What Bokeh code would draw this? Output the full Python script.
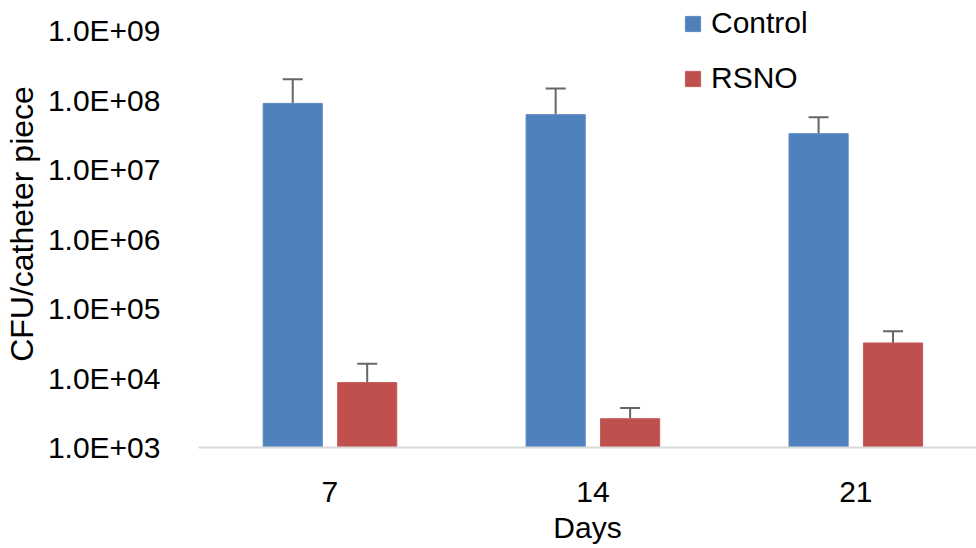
from bokeh.plotting import figure
from bokeh.models import (Range1d, FixedTicker, CustomJSTickFormatter, Whisker,
                          ColumnDataSource, Legend, LegendItem, TeeHead)
from bokeh.transform import dodge
from bokeh.embed import file_html
from bokeh.resources import INLINE
import numpy as np

# Colony counts per catheter piece (mean and upper error) by day
days = ["7", "14", "21"]
control = [9.0e7, 6.2e7, 3.3e7]
control_err = [1.1e8, 8.5e7, 2.4e7]
rsno = [8.6e3, 2.6e3, 3.2e4]
rsno_err = [7.4e3, 1.1e3, 1.5e4]
y_ticks = [1e3, 1e4, 1e5, 1e6, 1e7, 1e8, 1e9]

FONT = "Liberation Sans"
BLUE = "#4F81BD"
RED = "#C0504D"
ERR = "#666666"
BAR_W = 0.225
OFFSET = 0.1416

x = np.arange(len(days))
src = ColumnDataSource(dict(
    x=x,
    control=control,
    control_up=[m + e for m, e in zip(control, control_err)],
    rsno=rsno,
    rsno_up=[m + e for m, e in zip(rsno, rsno_err)],
))

p = figure(width=976, height=548, output_backend="svg", toolbar_location=None,
           y_axis_type="log",
           x_range=Range1d(-0.5, 2.459),
           y_range=Range1d(1e3, 10 ** 9.436),
           min_border_left=198, min_border_right=0, min_border_top=0,
           min_border_bottom=101)
p.outline_line_color = None
p.grid.visible = False
p.background_fill_color = "white"
p.border_fill_color = "white"

floor = 1e3
r_c = p.vbar(x=dodge("x", -OFFSET), top="control", bottom=floor, width=BAR_W,
             source=src, fill_color=BLUE, line_color="#5b8ac4", line_width=1)
r_r = p.vbar(x=dodge("x", OFFSET), top="rsno", bottom=floor, width=BAR_W,
             source=src, fill_color=RED, line_color="#c75b58", line_width=1)

for top, up, off in [("control", "control_up", -OFFSET), ("rsno", "rsno_up", OFFSET)]:
    w = Whisker(base=dodge("x", off), lower=top, upper=up, source=src,
                dimension="height", line_color=ERR, line_width=2,
                upper_head=TeeHead(size=20, line_color=ERR, line_width=2),
                lower_head=None)
    p.add_layout(w)

# x axis: day labels
p.xaxis.ticker = FixedTicker(ticks=list(x))
p.xaxis.formatter = CustomJSTickFormatter(args=dict(labels=days),
                                          code="return labels[Math.round(tick)] || '';")
p.xaxis.axis_label = "Days"
p.xaxis.axis_line_color = "#d9d9d9"
p.xaxis.axis_line_width = 2
p.xaxis.major_tick_line_color = None
p.xaxis.minor_tick_line_color = None
p.xaxis.major_label_standoff = 28
p.xaxis.axis_label_standoff = 6

# y axis: log decades in scientific notation
p.yaxis.ticker = FixedTicker(ticks=y_ticks, minor_ticks=[])
p.yaxis.formatter = CustomJSTickFormatter(
    code="var s = tick.toExponential(1).toUpperCase(); "
         "return s.replace(/E([+-])(\\d)$/, 'E$10$2');")
p.yaxis.axis_label = "CFU/catheter piece"
p.yaxis.axis_line_color = None
p.yaxis.major_tick_line_color = None
p.yaxis.minor_tick_line_color = None
p.yaxis.major_label_standoff = 32
p.yaxis.axis_label_standoff = 5

for ax in (p.xaxis, p.yaxis):
    ax.major_label_text_font = FONT
    ax.major_label_text_font_size = "30px"
    ax.major_label_text_color = "black"
    ax.axis_label_text_font = FONT
    ax.axis_label_text_font_size = "30px"
    ax.axis_label_text_font_style = "normal"
    ax.axis_label_text_color = "black"
p.yaxis.axis_label_text_font_size = "32px"

legend = Legend(items=[LegendItem(label="Control", renderers=[r_c]),
                       LegendItem(label="RSNO", renderers=[r_r])],
                location=(485, 352), orientation="vertical",
                padding=0, margin=0, spacing=21,
                glyph_width=19, glyph_height=19, label_standoff=9,
                label_text_font=FONT, label_text_font_size="30px",
                label_text_color="black",
                background_fill_alpha=0, border_line_color=None)
p.add_layout(legend)

open("out.html", "w").write(file_html(p, INLINE))
